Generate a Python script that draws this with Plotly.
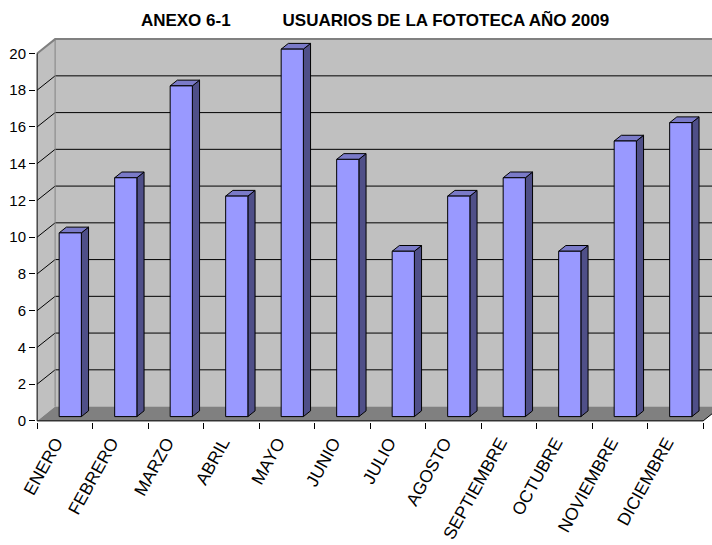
import plotly.graph_objects as go

# Data
months = ["ENERO", "FEBRERO", "MARZO", "ABRIL", "MAYO", "JUNIO", "JULIO",
          "AGOSTO", "SEPTIEMBRE", "OCTUBRE", "NOVIEMBRE", "DICIEMBRE"]
usuarios = [10, 13, 18, 12, 20, 14, 9, 12, 13, 9, 15, 16]
y_ticks = list(range(0, 21, 2))
title_left = "ANEXO 6-1"
title_right = "USUARIOS DE LA FOTOTECA AÑO 2009"

# Pseudo-3D geometry (axis units)
PX_X, PX_Y = 55.5, 18.4          # pixels per category / per value unit
DX = 18 / PX_X                   # depth shift along x
DY = 0.78                        # depth shift along y
Y_MAX = 20
X_MIN, Y_MIN = -0.02, -0.06
W, H = 712, 545
ML = 36
X_END = X_MIN + (W - ML) / PX_X
Y_TOP = 20.84
MT = 421 - Y_TOP * PX_Y
MB = H - MT - (Y_TOP - Y_MIN) * PX_Y
n = len(months)

FONT = "Liberation Sans, Arial, sans-serif"


def polys(shapes):
    xs, ys = [], []
    for pts in shapes:
        for x, y in pts:
            xs.append(x)
            ys.append(y)
        xs.append(pts[0][0])
        ys.append(pts[0][1])
        xs.append(None)
        ys.append(None)
    return xs, ys


def segs(lines):
    xs, ys = [], []
    for pts in lines:
        for x, y in pts:
            xs.append(x)
            ys.append(y)
        xs.append(None)
        ys.append(None)
    return xs, ys


def fill_trace(shapes, color, line_color=None, lw=1):
    xs, ys = polys(shapes)
    return go.Scatter(x=xs, y=ys, mode="lines", fill="toself", fillcolor=color,
                      line=dict(color=line_color or color, width=lw if line_color else 0),
                      hoverinfo="skip", showlegend=False)


def line_trace(lines, color, lw=1):
    xs, ys = segs(lines)
    return go.Scatter(x=xs, y=ys, mode="lines", line=dict(color=color, width=lw),
                      hoverinfo="skip", showlegend=False)


fig = go.Figure()

# Walls and floor
back_right = X_END + 1
fig.add_trace(fill_trace([[(DX, DY), (back_right, DY), (back_right, Y_MAX + DY), (DX, Y_MAX + DY)]], "#C0C0C0"))
fig.add_trace(fill_trace([[(0, 0), (DX, DY), (DX, Y_MAX + DY), (0, Y_MAX)]], "#C0C0C0"))
fig.add_trace(fill_trace([[(0, 0), (n, 0), (n + DX, DY), (DX, DY)]], "#808080"))

# Gridlines on back and side walls
grid = []
for k in y_ticks[1:-1]:
    grid.append([(0, k), (DX, k + DY), (back_right, k + DY)])
fig.add_trace(line_trace(grid, "black", 1))

# Wall borders
fig.add_trace(line_trace([[(DX, DY), (DX, Y_MAX + DY)]], "#808080", 1))
fig.add_trace(line_trace([[(0, Y_MAX), (DX, Y_MAX + DY), (back_right, Y_MAX + DY)]], "#808080", 2))

# Columns: front, side and top faces
d0, d1 = 0.3, 0.7
fronts, sides, tops = [], [], []
for i, v in enumerate(usuarios):
    xl_f, xr_f = i + 0.3 + d0 * DX, i + 0.7 + d0 * DX
    xl_b, xr_b = i + 0.3 + d1 * DX, i + 0.7 + d1 * DX
    yb_f, yt_f = d0 * DY, v + d0 * DY
    yb_b, yt_b = d1 * DY, v + d1 * DY
    sides.append([(xr_f, yb_f), (xr_b, yb_b), (xr_b, yt_b), (xr_f, yt_f)])
    tops.append([(xl_f, yt_f), (xr_f, yt_f), (xr_b, yt_b), (xl_b, yt_b)])
    fronts.append([(xl_f, yb_f), (xr_f, yb_f), (xr_f, yt_f), (xl_f, yt_f)])
fig.add_trace(fill_trace(sides, "#4F4F88", "black", 1))
fig.add_trace(fill_trace(tops, "#7A7AC8", "black", 1))
fig.add_trace(fill_trace(fronts, "#9999FF", "black", 1))

# Front axis lines
fig.add_trace(line_trace([[(0, Y_MAX), (0, 0), (n, 0), (n + DX, DY)]], "black", 1))

fig.update_layout(
    width=W, height=H,
    margin=dict(l=ML, r=0, t=MT, b=MB, autoexpand=False),
    paper_bgcolor="white", plot_bgcolor="white",
    showlegend=False,
    title=dict(
        text="<b>" + title_left + "\u00a0" * 11 + title_right + "</b>",
        x=375 / W, xref="container", xanchor="center",
        y=1 - 20.5 / H, yref="container", yanchor="middle",
        font=dict(family=FONT, size=17, color="black"),
    ),
    font=dict(family=FONT, color="black"),
)
fig.update_xaxes(
    range=[X_MIN, X_END], tickmode="array",
    tickvals=[i + 0.34 for i in range(n)], ticktext=months,
    tickangle=-61, ticks="", ticklabelstandoff=6,
    showgrid=False, zeroline=False, showline=False,
    tickfont=dict(family=FONT, size=17.5, color="black"),
    minor=dict(tickmode="array", tickvals=list(range(n + 1)), ticks="outside",
               ticklen=6, tickcolor="black", tickwidth=1, showgrid=False),
)
fig.update_yaxes(
    range=[Y_MIN, Y_TOP], tickmode="array", tickvals=y_ticks,
    ticks="outside", ticklen=6, tickcolor="black", tickwidth=1,
    showgrid=False, zeroline=False, showline=False,
    tickfont=dict(family=FONT, size=15, color="black"),
)

fig.write_html("out.html")
